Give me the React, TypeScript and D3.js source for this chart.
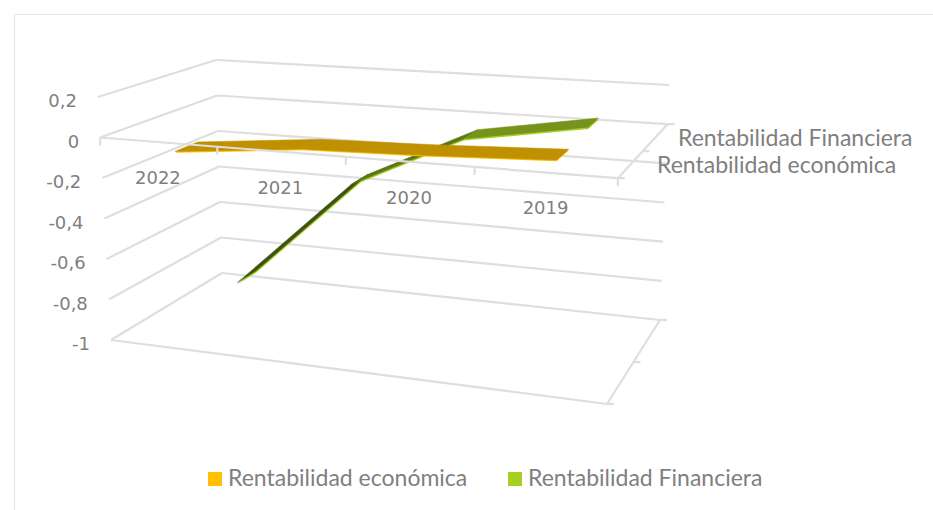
import React from "react";
import * as d3 from "d3";

const categories = ["2022", "2021", "2020", "2019"];
const economica = [-0.06, 0.0, 0.015, 0.04];
const financiera = [-0.88, -0.31, -0.035, 0.065];
const valueTicks = [0.2, 0, -0.2, -0.4, -0.6, -0.8, -1];
const valueLabels = ["0,2", "0", "-0,2", "-0,4", "-0,6", "-0,8", "-1"];
const seriesNames = ["Rentabilidad económica", "Rentabilidad Financiera"];

const GRID = "#dedede";
const TEXT = "#7f7f7f";
const FONT = "Lato, 'Open Sans', sans-serif";
const NUMFONT = "'DejaVu Sans', sans-serif";

// box corners: [front-left, front-right, back-left, back-right]
const topCorners = [[98, 97], [620, 133], [216, 60], [669, 85]];
const botCorners = [[111, 340], [607, 404], [222, 273], [660, 320]];

const vScale = d3.scaleLinear().domain([0.2, -1]).range([0, 1]);
const uScale = d3.scaleOrdinal<string, number>().domain(categories).range([0.127, 0.375, 0.612, 0.872]);
// front-edge ticks are foreshortened by the perspective of the 3-D box
const tickScale = d3.scaleLinear().domain([0, 0.25, 0.5, 0.75, 1]).range([0, 0.2263, 0.4745, 0.7234, 1]);
const lerp = d3.interpolateNumber;

function project(u: number, d: number, v: number): [number, number] {
  const t = vScale(v);
  const corner = (i: number): [number, number] => [
    lerp(topCorners[i][0], botCorners[i][0])(t),
    lerp(topCorners[i][1], botCorners[i][1])(t),
  ];
  const [fl, fr, bl, br] = [corner(0), corner(1), corner(2), corner(3)];
  const fx = lerp(fl[0], fr[0])(u), fy = lerp(fl[1], fr[1])(u);
  const bx = lerp(bl[0], br[0])(u), by = lerp(bl[1], br[1])(u);
  return [lerp(fx, bx)(d), lerp(fy, by)(d)];
}

const line = d3.line<[number, number]>();

function Ribbon({ values, d0, d1, under, shades, drop }: {
  values: number[]; d0: number; d1: number; under: string; shades: string[]; drop: number;
}) {
  const segs = values.slice(0, -1).map((v, i) => {
    const u0 = uScale(categories[i]), u1 = uScale(categories[i + 1]), v1 = values[i + 1];
    return [project(u0, d0, v), project(u0, d1, v), project(u1, d1, v1), project(u1, d0, v1)] as [number, number][];
  });
  return (
    <g>
      {segs.map((p, i) => (
        <path key={"u" + i} d={line(p.map(([x, y]) => [x, y + drop] as [number, number]))! + "Z"} fill={under} />
      ))}
      {segs.map((p, i) => (
        <path key={"t" + i} d={line(p)! + "Z"} fill={shades[i]} stroke={shades[i]} strokeWidth={0.5} />
      ))}
    </g>
  );
}

export default function App() {
  const seg = (a: [number, number], b: [number, number], key: string) => (
    <path key={key} d={line([a, b])!} stroke={GRID} strokeWidth={2.2} fill="none" />
  );
  const catDx = [-8, -14, -8, -6];
  return (
    <svg width={933} height={510} style={{ position: "absolute", left: 0, top: 0, background: "#fff" }} fontFamily={FONT} fill={TEXT}>
      <path d="M14.5,510V14.5H933" stroke="#e4e4e4" strokeWidth={1} fill="none" />

      {valueTicks.map((v) => (
        <g key={"w" + v}>
          {seg(project(0, 0, v), project(0, 1, v), "a")}
          {seg(project(0, 1, v), project(1, 1, v), "b")}
        </g>
      ))}
      {seg(project(0, 0, -1), project(1, 0, -1), "floorF")}
      {seg(project(1, 0, -1), project(1, 1, -1), "floorR")}
      {seg(project(1, 0, 0), project(1, 1, 0), "zeroR")}
      {[[1, 0, -1], [1, 1, -1], [1, 0.5, -1], [1, 0, 0], [1, 1, 0], [1, 0.5, 0]].map(([u, d, v], i) => {
        const [x, y] = project(u, d, v);
        return seg([x, y], [x + 7, y], "st" + i);
      })}

      <Ribbon values={financiera} d0={0.62} d1={0.8} under="#a4cf1f" drop={1.8}
        shades={["#3f5213", "#5c771a", "#76931b"]} />
      <Ribbon values={economica} d0={0.08} d1={0.29} under="#ffc000" drop={1.3}
        shades={["#bf9000", "#bf9000", "#bf9000"]} />

      {seg(project(0, 0, 0), project(1, 0, 0), "zeroF")}
      {d3.range(0, 5).map((i) => {
        const [x, y] = project(tickScale(i / 4), 0, 0);
        return seg([x, y], [x, y + 8], "ct" + i);
      })}

      {valueTicks.map((v, i) => {
        const [x, y] = project(0, 0, v);
        return (
          <text key={v} x={x - 21} y={y + 10} textAnchor="end" fontSize={18} fontFamily={NUMFONT}>
            {valueLabels[i]}
          </text>
        );
      })}
      {categories.map((c, i) => {
        const [x, y] = project(uScale(c), 0, 0);
        return (
          <text key={c} x={x + catDx[i]} y={y + 41.5} textAnchor="middle" fontSize={18} fontFamily={NUMFONT}>
            {c}
          </text>
        );
      })}

      <text x={678} y={146} fontSize={23}>{seriesNames[1]}</text>
      <text x={657} y={173} fontSize={23}>{seriesNames[0]}</text>

      <rect x={208} y={472} width={14} height={14} fill="#ffc000" />
      <text x={228} y={486} fontSize={23}>{seriesNames[0]}</text>
      <rect x={508} y={472} width={14} height={14} fill="#a5d01f" />
      <text x={528} y={486} fontSize={23}>{seriesNames[1]}</text>
    </svg>
  );
}
